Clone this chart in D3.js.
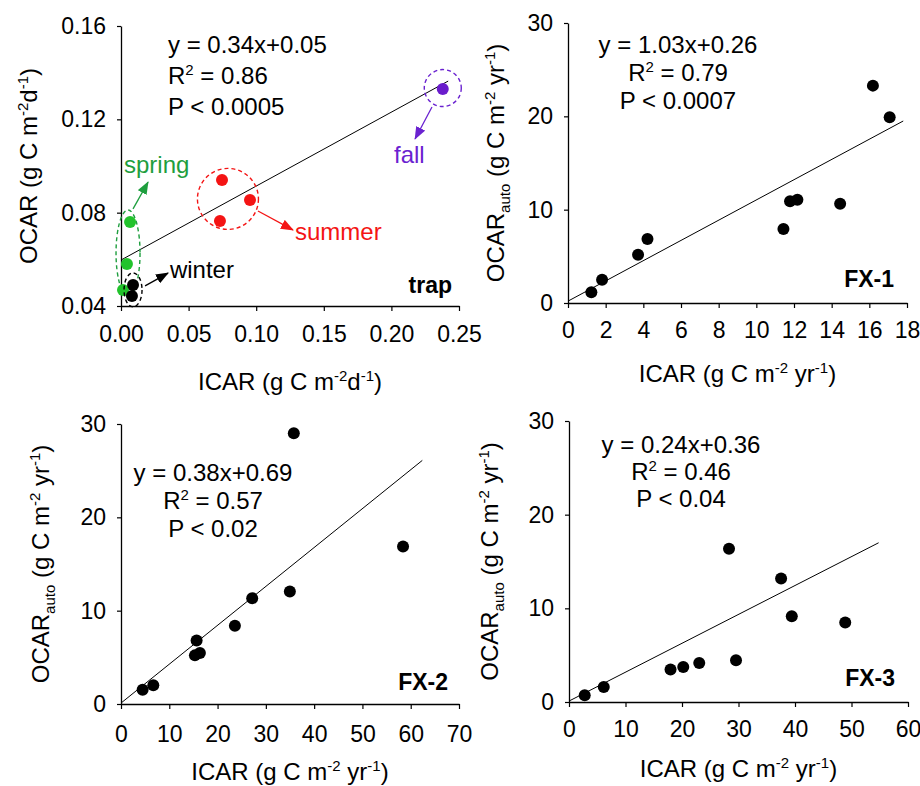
<!DOCTYPE html>
<html>
<head>
<meta charset="utf-8">
<script src="https://cdnjs.cloudflare.com/ajax/libs/d3/7.8.5/d3.min.js"></script>
<style>
body { margin: 0; background: #fff; }
svg text { font-family: "Liberation Sans", Arial, sans-serif; fill: #000; }
</style>
</head>
<body>
<div id="chart"></div>
<script>
// ---- data ----
// trap panel, by season (g C m-2 d-1)
var springICAR = [0.0015, 0.0044, 0.0067];
var springOCAR = [0.0469, 0.058, 0.076];
var winterICAR = [0.0089, 0.0081];
var winterOCAR = [0.049, 0.0443];
var summerICAR = [0.0747, 0.0732, 0.0954];
var summerOCAR = [0.094, 0.0764, 0.0854];
var fallICAR = [0.238];
var fallOCAR = [0.133];
var trapFit = [[0, 0.0597], [0.242, 0.1364]];

// FX sites (g C m-2 yr-1)
var fx1ICAR = [1.24, 1.81, 3.72, 4.22, 11.44, 11.79, 12.18, 14.45, 16.19, 17.08];
var fx1OCAR = [1.14, 2.5, 5.18, 6.86, 7.93, 10.89, 11.07, 10.64, 23.29, 19.89];
var fx1Fit = [[0, 0.2], [17.8, 19.5]];

var fx2ICAR = [4.48, 6.69, 15.31, 16.34, 15.66, 23.59, 27.17, 34.97, 35.79, 58.41];
var fx2OCAR = [1.53, 2.0, 5.21, 5.46, 6.81, 8.38, 11.34, 12.06, 29.0, 16.87];
var fx2Fit = [[0, 0.1], [62.4, 26.1]];

var fx3ICAR = [2.78, 6.15, 17.97, 20.22, 23.05, 28.32, 29.56, 37.54, 39.43, 48.89];
var fx3OCAR = [0.71, 1.6, 3.46, 3.74, 4.17, 16.35, 4.45, 13.18, 9.16, 8.48];
var fx3Fit = [[0, 0.1], [54.8, 17.0]];

// tick values
var trapXTicks = [0, 0.05, 0.1, 0.15, 0.2, 0.25];
var trapYTicks = [0.04, 0.08, 0.12, 0.16];
var fx1XTicks = d3.range(0, 19, 2);
var fx2XTicks = d3.range(0, 71, 10);
var fx3XTicks = d3.range(0, 61, 10);
var fxYTicks = [0, 10, 20, 30];

// regression statistics text
var trapStats = ["y = 0.34x+0.05", "0.86", "P < 0.0005"];
var fx1Stats = ["y = 1.03x+0.26", "0.79", "P < 0.0007"];
var fx2Stats = ["y = 0.38x+0.69", "0.57", "P < 0.02"];
var fx3Stats = ["y = 0.24x+0.36", "0.46", "P < 0.04"];

// ---- layout ----
var W = 920, H = 786, FS = 23, LS = 24;
var svg = d3.select("#chart").append("svg")
	.attr("width", W)
	.attr("height", H);

var defs = svg.append("defs");

// axis label pieces
var trapXLabel = [{t: "ICAR (g C m"}, {t: "-2", sup: 1}, {t: "d"}, {t: "-1", sup: 1}, {t: ")"}];
var trapYLabel = [{t: "OCAR (g C m"}, {t: "-2", sup: 1}, {t: "d"}, {t: "-1", sup: 1}, {t: ")"}];
var fxXLabel = [{t: "ICAR (g C m"}, {t: "-2", sup: 1}, {t: " yr"}, {t: "-1", sup: 1}, {t: ")"}];
var fxYLabel = [{t: "OCAR"}, {t: "auto", sub: 1}, {t: " (g C m"}, {t: "-2", sup: 1}, {t: " yr"}, {t: "-1", sup: 1}, {t: ")"}];

var panels = [
	{name: "trap", xs: [0, 0.25], ys: [0.04, 0.16], left: 121, right: 459, top: 26, bottom: 306,
		xv: trapXTicks, yv: trapYTicks, fmt: d3.format(".2f"), yfmt: d3.format(".2f"),
		px: [], py: [], fit: trapFit, stats: trapStats, statX: 168, statY: 53, statGap: 31, statAnchor: "start",
		xl: trapXLabel, yl: trapYLabel, xlY: 390, ylX: 37, xtOff: 36, tagY: 293, tagX: 452},
	{name: "FX-1", xs: [0, 18], ys: [0, 30], left: 568, right: 907, top: 23, bottom: 303,
		xv: fx1XTicks, yv: fxYTicks, fmt: d3.format("d"), yfmt: d3.format("d"),
		px: fx1ICAR, py: fx1OCAR, fit: fx1Fit, stats: fx1Stats, statX: 678, statY: 53, statGap: 28, statAnchor: "middle",
		xl: fxXLabel, yl: fxYLabel, xlY: 382, ylX: 504, xtOff: 35, tagY: 287, tagX: 894},
	{name: "FX-2", xs: [0, 70], ys: [0, 30], left: 121, right: 459, top: 424, bottom: 704,
		xv: fx2XTicks, yv: fxYTicks, fmt: d3.format("d"), yfmt: d3.format("d"),
		px: fx2ICAR, py: fx2OCAR, fit: fx2Fit, stats: fx2Stats, statX: 213, statY: 481, statGap: 28, statAnchor: "middle",
		xl: fxXLabel, yl: fxYLabel, xlY: 780, ylX: 49, xtOff: 38, tagY: 690, tagX: 448},
	{name: "FX-3", xs: [0, 60], ys: [0, 30], left: 569, right: 908, top: 421, bottom: 702,
		xv: fx3XTicks, yv: fxYTicks, fmt: d3.format("d"), yfmt: d3.format("d"),
		px: fx3ICAR, py: fx3OCAR, fit: fx3Fit, stats: fx3Stats, statX: 681, statY: 453, statGap: 27, statAnchor: "middle",
		xl: fxXLabel, yl: fxYLabel, xlY: 777, ylX: 498, xtOff: 35, tagY: 686, tagX: 895}
];

// writes text with super/subscript pieces
function richText(text, parts) {
	var shift = 0;
	parts.forEach(function (p) {
		var target = p.sup ? -9 : (p.sub ? 6 : 0);
		var ts = text.append("tspan").attr("dy", target - shift).text(p.t);
		if (p.sup || p.sub) ts.attr("font-size", 15);
		shift = target;
	});
}

var line = d3.line();

panels.forEach(function (p) {
	var x = d3.scaleLinear().domain(p.xs).range([p.left, p.right]);
	var y = d3.scaleLinear().domain(p.ys).range([p.bottom, p.top]);
	p.x = x; p.y = y;
	var g = svg.append("g").attr("class", "panel");

	// axes
	var xAxis = g.append("g")
		.attr("transform", "translate(0," + p.bottom + ")")
		.call(d3.axisBottom(x).tickValues(p.xv).tickFormat(p.fmt)
			.tickSizeInner(5).tickSizeOuter(0).tickPadding(p.xtOff - 5 - 0.71 * FS));
	var yAxis = g.append("g")
		.attr("transform", "translate(" + p.left + ",0)")
		.call(d3.axisLeft(y).tickValues(p.yv).tickFormat(p.yfmt)
			.tickSizeInner(4).tickSizeOuter(0).tickPadding(11));
	[xAxis, yAxis].forEach(function (a) {
		a.select(".domain").attr("stroke", "#000").attr("stroke-width", 1.3);
		a.selectAll(".tick line").attr("stroke", "#000").attr("stroke-width", 1.2);
		a.selectAll(".tick text").attr("font-size", FS).attr("fill", "#000")
			.style("font-family", "'Liberation Sans', Arial, sans-serif");
	});

	// axis labels
	richText(g.append("text")
		.attr("x", (p.left + p.right) / 2)
		.attr("y", p.xlY)
		.attr("text-anchor", "middle")
		.attr("font-size", LS), p.xl);
	richText(g.append("text")
		.attr("transform", "translate(" + p.ylX + "," + (p.top + p.bottom) / 2 + ") rotate(-90)")
		.attr("text-anchor", "middle")
		.attr("font-size", LS), p.yl);

	// regression line
	g.append("path")
		.attr("d", line(p.fit.map(function (d) { return [x(d[0]), y(d[1])]; })))
		.attr("fill", "none")
		.attr("stroke", "#000")
		.attr("stroke-width", 1);

	// points
	g.selectAll("circle.pt")
		.data(p.px.map(function (d, i) { return [d, p.py[i]]; }))
		.enter().append("circle")
		.attr("class", "pt")
		.attr("cx", function (d) { return x(d[0]); })
		.attr("cy", function (d) { return y(d[1]); })
		.attr("r", 6)
		.attr("fill", "#000");

	// statistics
	var st = g.append("g").attr("font-size", LS).attr("text-anchor", p.statAnchor);
	st.append("text").attr("x", p.statX).attr("y", p.statY).text(p.stats[0]);
	richText(st.append("text").attr("x", p.statX).attr("y", p.statY + p.statGap),
		[{t: "R"}, {t: "2", sup: 1}, {t: " = " + p.stats[1]}]);
	st.append("text").attr("x", p.statX).attr("y", p.statY + 2 * p.statGap).text(p.stats[2]);

	// site tag
	g.append("text")
		.attr("x", p.tagX)
		.attr("y", p.tagY)
		.attr("text-anchor", "end")
		.attr("font-size", FS)
		.attr("font-weight", "bold")
		.text(p.name);
});

// ---- seasonal groups in the trap panel ----
var trap = panels[0];
var seasons = [
	{name: "spring", x: springICAR, y: springOCAR, dot: "#22c32c", ink: "#1e9e3e",
		ell: [0.0052, 0.0627, 12, 43], arrow: [[0.0089, 0.0816], [0.0200, 0.0931]], label: [0.0022, 0.097]},
	{name: "winter", x: winterICAR, y: winterOCAR, dot: "#000", ink: "#000",
		ell: [0.0089, 0.0469, 9, 17], arrow: [[0.0178, 0.0486], [0.0348, 0.0541]], label: [0.0362, 0.052]},
	{name: "summer", x: summerICAR, y: summerOCAR, dot: "#f41414", ink: "#f41414",
		ell: [0.0791, 0.0859, 30.5, 30.5], arrow: [[0.1013, 0.0807], [0.1272, 0.0726]], label: [0.1287, 0.0683]},
	{name: "fall", x: fallICAR, y: fallOCAR, dot: "#6a1ccc", ink: "#6a22d0",
		ell: [0.238, 0.1334, 18.5, 18.5], arrow: [[0.2300, 0.1253], [0.2175, 0.1116]], label: [0.2019, 0.1013]}
];

var sg = svg.append("g").attr("class", "seasons");
seasons.forEach(function (s) {
	defs.append("marker")
		.attr("id", "arrow-" + s.name)
		.attr("viewBox", "0 0 13 10")
		.attr("refX", 12).attr("refY", 5)
		.attr("markerUnits", "userSpaceOnUse")
		.attr("markerWidth", 13).attr("markerHeight", 10)
		.attr("orient", "auto")
		.append("path")
		.attr("d", "M0,0L13,5L0,10Z")
		.attr("fill", s.ink);

	sg.append("ellipse")
		.attr("cx", trap.x(s.ell[0]))
		.attr("cy", trap.y(s.ell[1]))
		.attr("rx", s.ell[2])
		.attr("ry", s.ell[3])
		.attr("fill", "none")
		.attr("stroke", s.ink)
		.attr("stroke-width", 1.4)
		.attr("stroke-dasharray", "4,3");

	sg.selectAll("circle." + s.name)
		.data(s.x.map(function (d, i) { return [d, s.y[i]]; }))
		.enter().append("circle")
		.attr("class", s.name)
		.attr("cx", function (d) { return trap.x(d[0]); })
		.attr("cy", function (d) { return trap.y(d[1]); })
		.attr("r", 6)
		.attr("fill", s.dot);

	sg.append("line")
		.attr("x1", trap.x(s.arrow[0][0])).attr("y1", trap.y(s.arrow[0][1]))
		.attr("x2", trap.x(s.arrow[1][0])).attr("y2", trap.y(s.arrow[1][1]))
		.attr("stroke", s.ink)
		.attr("stroke-width", 1.3)
		.attr("marker-end", "url(#arrow-" + s.name + ")");

	sg.append("text")
		.attr("x", trap.x(s.label[0]))
		.attr("y", trap.y(s.label[1]))
		.attr("font-size", LS)
		.style("fill", s.ink)
		.text(s.name);
});
</script>
</body>
</html>
